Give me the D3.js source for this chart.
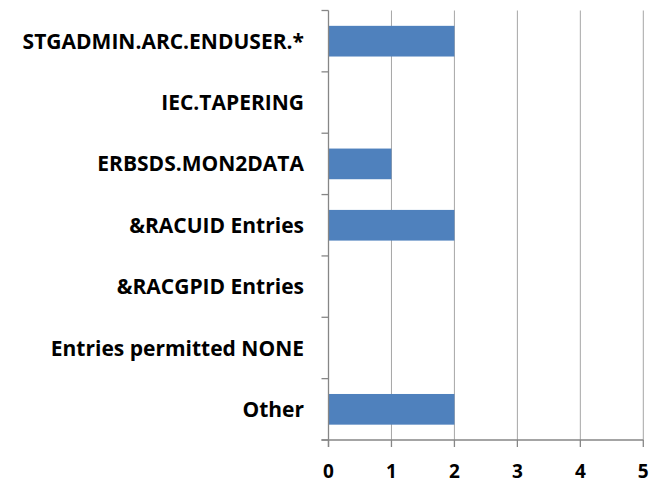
<!DOCTYPE html>
<html><head><meta charset="utf-8">
<script src="https://cdn.jsdelivr.net/npm/d3@7"></script>
<style>body{margin:0;background:#fff}</style>
</head><body>
<svg id="c" width="656" height="483"></svg>
<script>
const categories = ["STGADMIN.ARC.ENDUSER.*","IEC.TAPERING","ERBSDS.MON2DATA","&RACUID Entries","&RACGPID Entries","Entries permitted NONE","Other"];
const values = [2,0,1,2,0,0,2];
const xTicks = [0,1,2,3,4,5];

const svg = d3.select("#c");
const pL = 328.5, pR = 643.3, pT = 10.5, pB = 440;
const font = "'Open Sans', Lato, sans-serif";
const x = d3.scaleLinear().domain([0,5]).range([pL,pR]);
const y = d3.scaleBand().domain(categories).range([pT,pB]).paddingInner(0.5).paddingOuter(0.25);
const yb = d3.scaleBand().domain(categories).range([pT,pB]);

// gridlines
svg.append("g").selectAll("line").data(xTicks.slice(1)).join("line")
  .attr("x1",d=>x(d)).attr("x2",d=>x(d)).attr("y1",pT).attr("y2",pB)
  .attr("stroke","#a6a6a6").attr("stroke-width",1);

// bars
svg.append("g").selectAll("rect").data(categories).join("rect")
  .attr("x",x(0)).attr("y",d=>y(d))
  .attr("width",(d,i)=>x(values[i])-x(0)).attr("height",y.bandwidth())
  .attr("fill","#4f81bd");

// y axis line and ticks
const axisColor = "#868686";
svg.append("line").attr("x1",pL).attr("x2",pL).attr("y1",pT).attr("y2",pB+7).attr("stroke",axisColor).attr("stroke-width",1.3);
const bounds = categories.map(c=>yb(c)).concat([pB]);
svg.append("g").selectAll("line").data(bounds).join("line")
  .attr("x1",pL-7).attr("x2",pL).attr("y1",d=>d).attr("y2",d=>d)
  .attr("stroke",axisColor).attr("stroke-width",1.3);

// x axis line and ticks
svg.append("line").attr("x1",pL-7).attr("x2",pR).attr("y1",pB).attr("y2",pB).attr("stroke",axisColor).attr("stroke-width",1.3);
svg.append("g").selectAll("line").data(xTicks).join("line")
  .attr("x1",d=>x(d)).attr("x2",d=>x(d)).attr("y1",pB).attr("y2",pB+7)
  .attr("stroke",axisColor).attr("stroke-width",1.3);

// x tick labels
svg.append("g").selectAll("text").data(xTicks).join("text")
  .attr("x",d=>x(d)).attr("y",477.5)
  .attr("text-anchor","middle").attr("font-family",font).attr("font-weight","bold")
  .attr("font-size",19).attr("fill","#000").text(d=>d);

// category labels
svg.append("g").selectAll("text").data(categories).join("text")
  .attr("x",304).attr("y",d=>yb(d)+yb.bandwidth()/2).attr("dy","0.36em")
  .attr("text-anchor","end").attr("font-family",font).attr("font-weight","bold")
  .attr("font-size",21).attr("fill","#000").text(d=>d);
</script>
</body></html>
